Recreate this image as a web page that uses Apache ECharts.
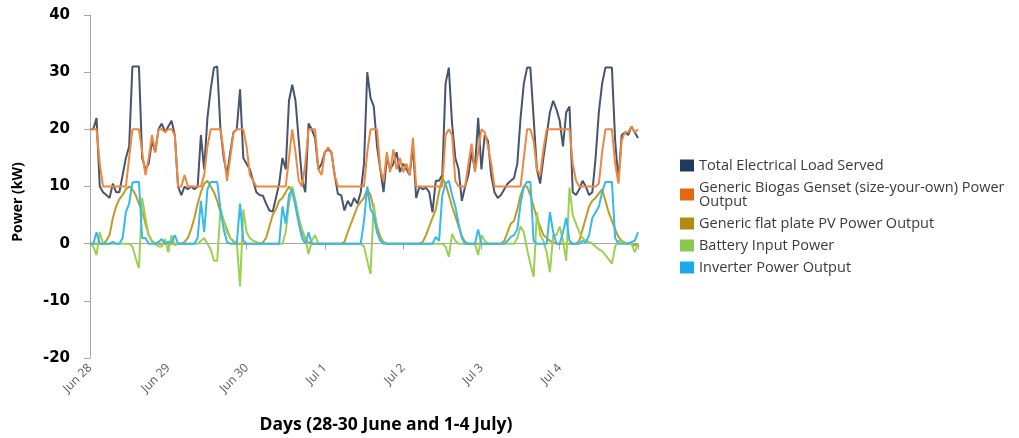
<!DOCTYPE html>
<html>
<head>
<meta charset="utf-8">
<script src="https://cdn.jsdelivr.net/npm/echarts@6/dist/echarts.min.js"></script>
<style>html,body{margin:0;padding:0;background:#fff;}#c{width:1019px;height:438px;}</style>
</head>
<body>
<div id="c"></div>
<script>
// Tick labels for each day (hourly data, 0..168 hours)
const dayLabels = ['Jun 28','Jun 29','Jun 30','Jul 1','Jul 2','Jul 3','Jul 4'];
const seriesNames = ['Total Electrical Load Served','Generic Biogas Genset (size-your-own) Power Output','Generic flat plate PV Power Output','Battery Input Power','Inverter Power Output'];

const load = [20,20,22,10,9,8.5,8,10.5,9,9,12,15,17,31,31,31,15,13,14,18,16,20,21,19.5,
20.5,21.5,19,10,8.5,10,9.5,10,9.5,10,19,13,22,27,30.8,31,20,15,12,16,19.5,20,27,15,
14,13,11,9,8.5,8.4,7,5.8,5.6,8,10.5,15,13,25,27.8,25,18,11.3,9,21,20,18.5,13,14,
16,16.5,16,12,8.7,8.5,5.8,7.5,6.5,8,7,9,14,30,25.5,24,17,13,9,15,13,14,16,12.5,
14,13,12,17,8,10,9.5,9.8,9,5.5,11,11,12,28,30.8,21,15,13,7.5,10,12,16,13,22,
13,19,18,12,9,8,8.5,9.5,10.5,11,11.5,14,22,28,30.8,30.8,22,13,10.5,15,19,23,25,23.5,
21.5,17,23,24,9,8.5,9.5,11,10,8.5,9,15,23,28,30.8,30.8,30.8,18,11,19,19.5,19,20.5,19.5,
18.5];

const genset = [20,20,20,14,10,10,10,10,10,10,10,10,15,20,20,20,16,12,15,19,16,20,20,19.5,
20,20,19,10,10,12,10,10,10,10,10,12,17,20,20,20,20,16,11,15,19.5,20,20,20,
17,12,11,10,10,10,10,10,10,10,10,10,10,15,20,16,11,10,14,20,20,20,13,12,
16,16.8,16,12,10,10,10,10,10,10,10,10,10,16,20,20,20,13,11,16,12.5,16.5,13,15,
12.5,14,12,18.5,10,10,10,10,10,10,10,10,10,19,20,19,11,10,10,10,14,17.5,12.5,16,
20,19.5,17,14,10,10,10,10,10,10,10,10,10,15,20,20,18,13,12,16.5,20,20,20,20,
20,20,20,20,14,11,10,10,10,10,10,10,10.5,16,20,20,20,14,10.5,18,19.5,19.5,20.5,19.5,
20];

const pv = [0,0,0,0,0,0.5,1.5,4.5,6.5,7.8,8.5,9.5,10,9.5,8.5,7,5.8,3.5,1.5,0.5,0,0,0,0,
0,0,0,0,0,0.3,1,2.5,4.5,7,9,10.5,11,10,9,7.5,5.5,4,2.5,1,0.3,0,0,0,
0,0,0,0,0,0.2,1,3,5,6,7.5,8,9,10,9,7,4.5,2,0.7,0.2,0,0,0,0,
0,0,0,0,0,0,0.3,2,3.5,5,6.5,7.3,8,9.5,8.5,6,3,1.2,0.3,0,0,0,0,0,
0,0,0,0,0,0,0.3,1.5,3,4.5,6,9,11.5,10.5,8.5,6.5,4.8,3,1.3,0.3,0,0,0,0,
0,0,0,0,0,0,0,0.5,2,3.5,4,6,8.5,10,10,8.5,6.5,4.5,3,1.5,1,0.5,0.2,0,
0,0,0,0,0,0,0.5,2.5,4.5,6.5,7.5,8,8.8,9.5,7.5,5.5,4,2.5,1.2,0.5,0.2,0,0,-0.3,
0];

const battery = [0,-0.5,-2,2,0,0,0,0,0,0,0,0,0,-0.5,-2.5,-4.3,8,4.5,1.5,0.3,0,-0.5,-0.5,0.8,
-1.5,1.5,-0.3,0,0,0,0,0,0,0,0.5,1,0,-1,-3,-3,6,4,2,1,0.5,0.2,-7.5,6,
2,1,0.5,0.3,0,0,0,0,0,0,0,0,2,7,10,7.5,4.5,2.5,1,-1.8,0.5,1.5,0,0,
0,0,0,0,0,0,0,0,0,0,0,0,-0.5,-3,-5.3,7,2,0.8,0.3,0,0,0,0,0,
0,0,0,0,0,0,0,0,0,0,0,0,0,-0.5,-2.3,1.7,0.5,0,0,0,0,0,0,-2,
1.5,0.5,0,0,0,0,0,0,0,0,0,1,3,2,-1,-3.5,-5.8,5.5,1.5,0.5,-1.5,-5,1.5,1.5,
3,0.5,-3,9.8,5,3.5,2,1,0.5,0.3,0,-0.5,-1,-1.3,-2,-2.7,-3.5,-0.5,0.5,0.3,0.2,0,0,-1.5,
0];

const inverter = [0,0,2,0,0,0,0,0.3,0,0,1,5.5,7,10.7,10.8,10.8,1,1,0,0,0,0.3,0.8,0,
0.3,0.2,1.5,0,0,0,0,0,0,1,7.5,2,9.5,10.8,10.8,10.8,6,2.5,0.3,0,0,0,7,0.5,
0,0,0,0,0,0,0,0,0,0,0,6.5,3.5,8.5,9.5,6.5,3.5,1,0,2,0,0,0,0,
0,0,0,0,0,0,0,0,0,0,0,0,4,10,6,5,2,0.5,0,0,0,0,0,0,
0,0,0,0,0,0,0,0,0,0,1.2,0.5,8.5,10.5,11,8.5,6.5,3.5,1,0,0,0,0,2.5,
0,0,0,0,0,0,0,0,0.5,1.2,1.5,2.5,7,10,10.8,10.8,0.5,0,0,0,0,5.5,2,0,
0,2,4.5,0.5,0,0,0,0.5,0.2,1.5,4.5,5.5,6.5,9,10.8,10.8,10.8,1,0,0,0,0,0.3,0.5,
2];

const lineColors = ['#46556E','#EE8840','#C49A22','#9DD052','#35B9EE'];
const legendColors = ['#1F3A5F','#E2690F','#B38B0C','#8CC84B','#1AAAEB'];

function toXY(arr){ return arr.map((v,i)=>[i,v]); }
const allData = [load, genset, pv, battery, inverter];

const chart = echarts.init(document.getElementById('c'), null, {renderer:'canvas'});
chart.setOption({
  animation:false,
  backgroundColor:'#ffffff',
  grid:{left:90, right:381, top:15, bottom:80, containLabel:false},
  xAxis:{
    type:'value', min:0, max:168, interval:24,
    axisLine:{show:true, lineStyle:{color:'#A6A6A6', width:1}},
    axisTick:{show:true, length:6, lineStyle:{color:'#A6A6A6'}},
    splitLine:{show:false},
    axisLabel:{rotate:45, margin:8, fontSize:12, color:'#595959', fontFamily:'Open Sans',
      formatter:function(v){ const k=Math.round(v/24); return k<dayLabels.length?dayLabels[k]:''; }}
  },
  yAxis:{
    type:'value', min:-20, max:40, interval:10,
    axisLine:{show:true, lineStyle:{color:'#A6A6A6', width:1}},
    axisTick:{show:true, length:6, lineStyle:{color:'#A6A6A6'}},
    splitLine:{show:false},
    axisLabel:{margin:20, fontSize:15, fontWeight:'bold', color:'#000', fontFamily:'DejaVu Sans'}
  },
  legend:{
    orient:'vertical', left:675, top:153, itemWidth:14, itemHeight:12, itemGap:7, icon:'rect',
    textStyle:{fontSize:14.5, lineHeight:14, color:'#3A3A3A', fontFamily:'Open Sans'},
    formatter:function(n){ return n===seriesNames[1] ? 'Generic Biogas Genset (size-your-own) Power\nOutput' : n; },
    data: seriesNames.map((n,i)=>({name:n, itemStyle:{color:legendColors[i]}}))
  },
  graphic:[
    {type:'text', x:18, y:202, rotation:Math.PI/2,
      style:{text:'Power (kW)', fontSize:14, fontWeight:'bold', fontFamily:'Open Sans', fill:'#000', align:'center', verticalAlign:'middle'}},
    {type:'text', x:386, y:425,
      style:{text:'Days (28-30 June and 1-4 July)', fontSize:17.5, fontWeight:'bold', fontFamily:'Open Sans', fill:'#000', align:'center', verticalAlign:'middle'}}
  ],
  series: allData.map((arr,i)=>({
    name:seriesNames[i], type:'line', data:toXY(arr), showSymbol:false, symbol:'none',
    lineStyle:{width:2, color:lineColors[i]}, itemStyle:{color:lineColors[i]}, z:2+i
  }))
});
</script>
</body>
</html>
